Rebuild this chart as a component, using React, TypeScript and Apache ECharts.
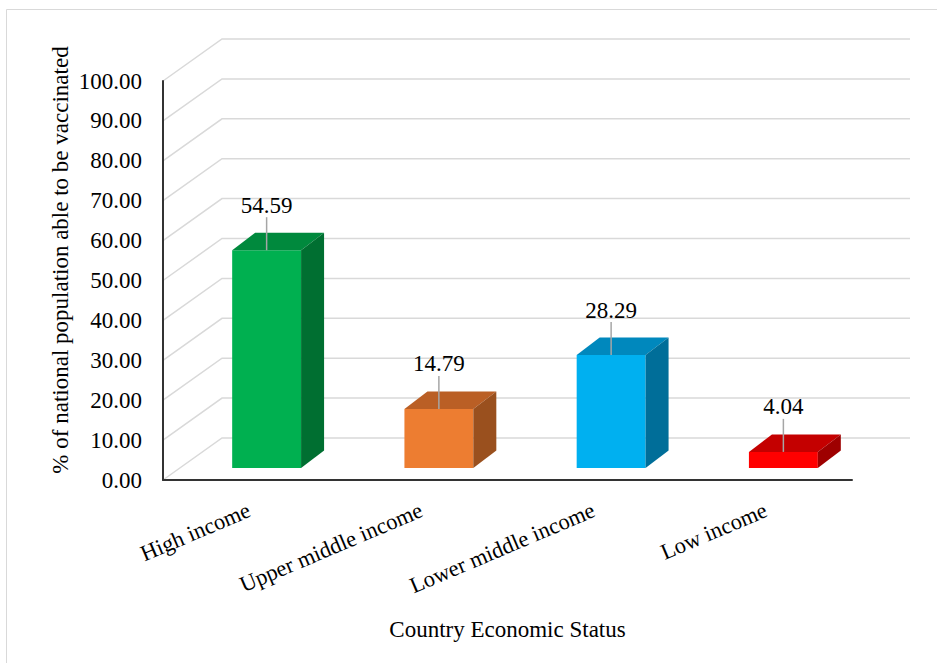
import React, { useEffect, useRef } from "react";
import * as echarts from "echarts";

const categories = ["High income", "Upper middle income", "Lower middle income", "Low income"];
const values = [54.59, 14.79, 28.29, 4.04];
const frontColors = ["#00B050", "#ED7D31", "#00B0F0", "#FF0000"];
const topColors = ["#00893D", "#BA5F25", "#0088BD", "#C40000"];
const sideColors = ["#006F31", "#9A501E", "#006E99", "#9E0000"];
const yTicks = [0, 10, 20, 30, 40, 50, 60, 70, 80, 90, 100];

const FONT = "Liberation Serif";
const WALL_DX = 59;
const WALL_DY = -42;
const BAR_FX = 17.5;
const BAR_FY = -12;
const BAR_DX = 23;
const BAR_DY = -17.5;

export default function App() {
  const ref = useRef<HTMLDivElement>(null);
  useEffect(() => {
    if (!ref.current) return;
    const chart = echarts.init(ref.current, null, { renderer: "svg" });
    const gridSeries = {
      type: "custom",
      z: 1,
      clip: false,
      silent: true,
      data: yTicks.map((v) => [0, v]),
      encode: { x: 0, y: 1 },
      renderItem: (params: any, api: any) => {
        const v = api.value(1);
        const y = api.coord([0, v])[1];
        const cs = params.coordSys;
        const gx = cs.x;
        const gr = cs.x + cs.width;
        return {
          type: "polyline",
          shape: {
            points: [
              [gx, y],
              [gx + WALL_DX, y + WALL_DY],
              [gr + WALL_DX - 1, y + WALL_DY],
            ],
          },
          style: { stroke: "#d9d9d9", lineWidth: 1.5, fill: "none" },
        };
      },
    };
    const barSeries = {
      type: "custom",
      z: 3,
      clip: false,
      data: values.map((v, i) => [i, v]),
      encode: { x: 0, y: 1 },
      renderItem: (params: any, api: any) => {
        const idx = api.value(0);
        const val = api.value(1);
        const base = api.coord([idx, 0]);
        const top = api.coord([idx, val]);
        const band = api.size([1, 0])[0];
        const w = band * 0.4;
        const cx = base[0] + BAR_FX;
        const x0 = cx - w / 2;
        const x1 = cx + w / 2;
        const yb = base[1] + BAR_FY;
        const yt = top[1] + BAR_FY;
        const i = params.dataIndex;
        return {
          type: "group",
          children: [
            {
              type: "polygon",
              shape: { points: [[x0, yb], [x1, yb], [x1, yt], [x0, yt]] },
              style: { fill: frontColors[i] },
            },
            {
              type: "polygon",
              shape: {
                points: [[x0, yt], [x1, yt], [x1 + BAR_DX, yt + BAR_DY], [x0 + BAR_DX, yt + BAR_DY]],
              },
              style: { fill: topColors[i] },
            },
            {
              type: "polygon",
              shape: {
                points: [[x1, yb], [x1 + BAR_DX, yb + BAR_DY], [x1 + BAR_DX, yt + BAR_DY], [x1, yt]],
              },
              style: { fill: sideColors[i] },
            },
            {
              type: "line",
              shape: { x1: cx, y1: yt - 33, x2: cx, y2: yt },
              style: { stroke: "#a6a6a6", lineWidth: 1.5 },
            },
            {
              type: "text",
              x: cx,
              y: yt - 45,
              style: {
                text: val.toFixed(2),
                align: "center",
                verticalAlign: "middle",
                fontSize: 23,
                fontFamily: FONT,
                fill: "#000",
              },
            },
          ],
        };
      },
    };
    chart.setOption({
      animation: false,
      backgroundColor: "#ffffff",
      textStyle: { fontFamily: FONT },
      grid: { left: 163, top: 81, right: 85, bottom: 183, containLabel: false },
      xAxis: {
        type: "category",
        data: categories,
        axisLine: { show: true, lineStyle: { color: "#333333", width: 2 } },
        axisTick: { show: false },
        axisLabel: {
          interval: 0,
          rotate: 23,
          margin: 29,
          fontSize: 22.5,
          fontFamily: FONT,
          color: "#000",
        },
        splitLine: { show: false },
        name: "Country Economic Status",
        nameLocation: "middle",
        nameGap: 138,
        nameTextStyle: { fontSize: 23, fontFamily: FONT, color: "#000" },
        z: 5,
      },
      yAxis: {
        type: "value",
        min: 0,
        max: 100,
        interval: 10,
        axisLine: { show: true, lineStyle: { color: "#333333", width: 2 } },
        axisTick: { show: false },
        splitLine: { show: false },
        axisLabel: {
          formatter: (v: number) => v.toFixed(2),
          fontSize: 23,
          fontFamily: FONT,
          color: "#000",
          margin: 21,
        },
        z: 5,
      },
      graphic: [
        {
          type: "rect",
          silent: true,
          z: -10,
          shape: { x: 6.5, y: 9.5, width: 1000, height: 1000 },
          style: { fill: "none", stroke: "#d9d9d9", lineWidth: 1 },
        },
        {
          type: "text",
          x: 60,
          y: 260,
          rotation: Math.PI / 2,
          style: {
            text: "% of national population able to be vaccinated",
            align: "center",
            verticalAlign: "middle",
            fontSize: 23,
            fontFamily: FONT,
            fill: "#000",
          },
        },
      ],
      series: [gridSeries, barSeries],
    });
    return () => chart.dispose();
  }, []);
  return (
    <div
      ref={ref}
      style={{ position: "fixed", left: 0, top: 0, width: 937, height: 663, background: "#fff" }}
    />
  );
}
